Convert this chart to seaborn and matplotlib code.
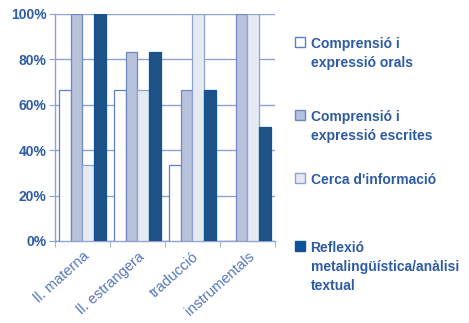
import pandas as pd
import numpy as np
import matplotlib
matplotlib.use("Agg")
import matplotlib.pyplot as plt
import seaborn as sns
from matplotlib.patches import Patch

# ==============================
# DATA
# ==============================

categories = ["ll. materna", "ll. estrangera", "traducció", "instrumentals"]

series = [
    "Comprensió i\nexpressió orals",
    "Comprensió i\nexpressió escrites",
    "Cerca d'informació",
    "Reflexió\nmetalingüística/anàlisi\ntextual",
]

orals = [66.7, 66.7, 33.3, 0]
escrites = [100, 83.3, 66.7, 100]
cerca = [33.3, 66.7, 100, 100]
reflexio = [100, 83.3, 66.7, 50]

yticks = [0, 20, 40, 60, 80, 100]

# ==============================
# STYLE
# ==============================

fills = ["#ffffff", "#b3c0df", "#e4e9f4", "#0d5398"]
edges = ["#5f7fc0", "#6f88c4", "#8ea2d0", "#0d5398"]
text_blue = "#2d5ba6"
label_blue = "#5677bb"
grid_blue = "#8fa3d2"

sns.set_style("white")
plt.rcParams["font.family"] = ["Liberation Sans", "DejaVu Sans"]

df = pd.DataFrame({
    "cat": np.repeat(categories, 4),
    "serie": series * len(categories),
    "val": np.ravel(np.column_stack([orals, escrites, cerca, reflexio])),
})

fig = plt.figure(figsize=(4.69, 3.23), dpi=100)
ax = fig.add_axes([0.117, 0.254, 0.469, 0.703])

sns.barplot(data=df, x="cat", y="val", hue="serie", order=categories,
            hue_order=series, palette=fills, width=0.86, gap=0,
            legend=False, ax=ax, zorder=3)

# bar edges per series
n = len(categories)
for i, patch in enumerate(ax.patches):
    s = i // n
    patch.set_edgecolor(edges[s])
    patch.set_linewidth(0.9)

# ==============================
# AXES
# ==============================

ax.set_ylim(0, 100)
ax.set_xlim(-0.5, 3.5)
ax.set_yticks(yticks)
ax.set_yticklabels([f"{t}%" for t in yticks], fontsize=10,
                   fontweight="bold", color=text_blue)
ax.yaxis.grid(True, color=grid_blue, linewidth=1.0, zorder=0)
ax.set_axisbelow(True)

ax.set_xticks(range(n))
ax.set_xticklabels(categories, rotation=42, ha="right",
                   rotation_mode="anchor", fontsize=10.5, color=label_blue)
ax.tick_params(axis="x", length=0, pad=6)
ax.tick_params(axis="y", length=4, color=grid_blue, left=True, pad=2)

# small separators between categories on the base
ax.set_xticks([k + 0.5 for k in range(-1, n)], minor=True)
ax.tick_params(axis="x", which="minor", length=4, color=grid_blue, bottom=True)

ax.set_xlabel("")
ax.set_ylabel("")
for side in ["top", "right"]:
    ax.spines[side].set_visible(False)
for side in ["left", "bottom"]:
    ax.spines[side].set_color(grid_blue)
    ax.spines[side].set_linewidth(1.0)

# ==============================
# LEGEND (one per entry, handle at first line)
# ==============================

legend_y = [0.885, 0.66, 0.465, 0.255]

for s in range(4):
    handle = Patch(facecolor=fills[s], edgecolor=edges[s], linewidth=1.0)
    leg = fig.legend([handle], [series[s]], loc="upper left",
                     bbox_to_anchor=(0.628, legend_y[s]), frameon=False,
                     handlelength=0.75, handleheight=0.75, handletextpad=0.4,
                     borderpad=0, borderaxespad=0,
                     prop={"size": 10, "weight": "bold"})
    for t in leg.get_texts():
        t.set_color(text_blue)
        t.set_linespacing(1.45)
    for hp in leg._legend_handle_box.get_children()[0].get_children():
        hp.align = "top"

fig.savefig("out.png", dpi=100)
